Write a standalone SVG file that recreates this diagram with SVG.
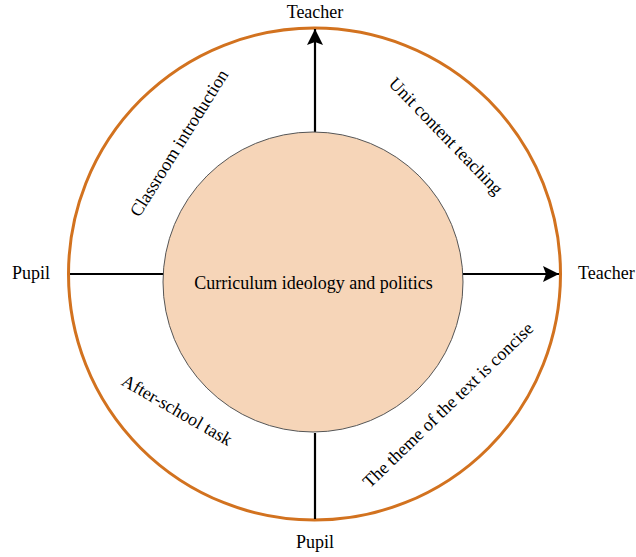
<svg xmlns="http://www.w3.org/2000/svg" width="636" height="557" viewBox="0 0 636 557">
  <style>
    text { font-family: "Liberation Serif", "Times New Roman", serif; font-size: 18px; fill: #000; }
    .mid { text-anchor: middle; dominant-baseline: central; }
    .axis { stroke: #000; stroke-width: 2.2; fill: none; }
  </style>
  <defs>
    <marker id="arrowhead" viewBox="0 0 16 16" refX="16" refY="8" markerWidth="16" markerHeight="16" markerUnits="userSpaceOnUse" orient="auto">
      <path d="M0,0 L16,8 L0,16 L3,8 z" fill="#000"/>
    </marker>
  </defs>

  <rect width="636" height="557" fill="#fff"/>

  <!-- outer ring -->
  <g id="ring">
    <circle cx="314.5" cy="274" r="246" fill="none" stroke="#D2721F" stroke-width="3"/>
  </g>

  <!-- axis connectors -->
  <g id="connectors">
    <line class="axis" x1="315" y1="132" x2="315" y2="29" marker-end="url(#arrowhead)"/>
    <line class="axis" x1="463" y1="274" x2="559" y2="274" marker-end="url(#arrowhead)"/>
    <line class="axis" x1="70" y1="274" x2="164" y2="274"/>
    <line class="axis" x1="315" y1="433" x2="315" y2="519"/>
  </g>

  <!-- central circle -->
  <g id="core">
    <circle cx="313" cy="282" r="150" fill="#F6D5B8" stroke="#555" stroke-width="1"/>
    <text class="mid" x="313.5" y="283">Curriculum ideology and politics</text>
  </g>

  <!-- axis labels -->
  <g id="label-top"><text x="315" y="18" text-anchor="middle">Teacher</text></g>
  <g id="label-right"><text x="578" y="279">Teacher</text></g>
  <g id="label-left"><text x="31" y="279" text-anchor="middle">Pupil</text></g>
  <g id="label-bottom"><text x="315" y="548" text-anchor="middle">Pupil</text></g>

  <!-- quadrant labels -->
  <g id="q-classroom"><text class="mid" transform="translate(179 143) rotate(-58)">Classroom introduction</text></g>
  <g id="q-unit"><text class="mid" transform="translate(446 136) rotate(46)">Unit content teaching</text></g>
  <g id="q-afterschool"><text class="mid" transform="translate(177 410) rotate(30)">After-school task</text></g>
  <g id="q-theme"><text class="mid" transform="translate(448 405) rotate(-44)">The theme of the text is concise</text></g>
</svg>
